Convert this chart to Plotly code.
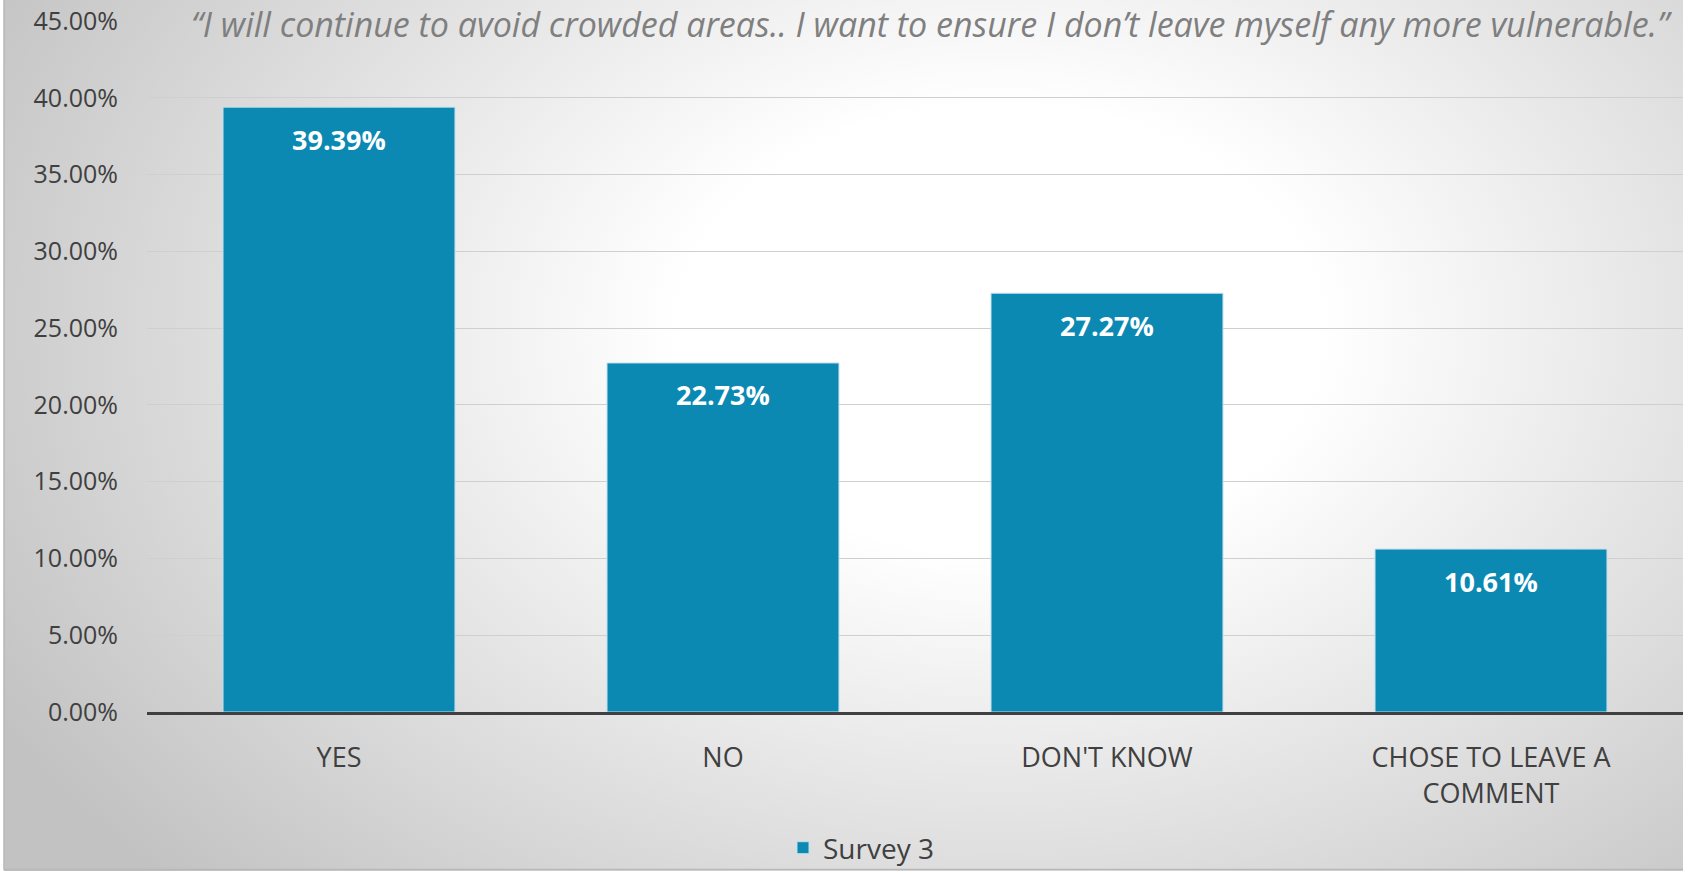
import base64
import plotly.graph_objects as go

# ---- data ----
categories = ["YES", "NO", "DON'T KNOW", "CHOSE TO LEAVE A<br>COMMENT"]
values = [39.39, 22.73, 27.27, 10.61]
series_name = "Survey 3"
y_ticks = [0, 5, 10, 15, 20, 25, 30, 35, 40, 45]
y_tick_labels = [f"{t:.2f}%" for t in y_ticks]
quote = "“I will continue to avoid crowded areas.. I want to ensure I don’t leave myself any more vulnerable.”"

# ---- layout geometry ----
W, H = 1683, 871
ML, MR, MT, MB = 147, 0, 21, 159
PW, PH = W - ML - MR, H - MT - MB

BAR = "#0B89B2"
TXT = "#404040"
FONT = "Open Sans"

# background gradient (Excel-like radial fill)
bg_w = W - 4
svg = f'''<svg xmlns="http://www.w3.org/2000/svg" width="{bg_w}" height="{H}" viewBox="0 0 {bg_w} {H}" preserveAspectRatio="none">
<defs><radialGradient id="g" gradientUnits="userSpaceOnUse" cx="996" cy="330" r="1150"
gradientTransform="translate(996 330) scale(1 0.696) translate(-996 -330)">
<stop offset="0" stop-color="#ffffff"/><stop offset="0.28" stop-color="#ffffff"/>
<stop offset="1" stop-color="#c2c2c2"/></radialGradient></defs>
<rect x="0" y="0" width="{bg_w}" height="{H}" fill="url(#g)"/></svg>'''
bg_uri = "data:image/svg+xml;base64," + base64.b64encode(svg.encode()).decode()

fig = go.Figure()
fig.add_trace(go.Bar(
    x=categories, y=values, name=series_name,
    marker=dict(color=BAR, line=dict(color="#bfe0ec", width=1)),
    hoverinfo="skip",
))

for c, v in zip(categories, values):
    fig.add_annotation(x=c, y=v, xref="x", yref="y", text=f"<b>{v:.2f}%</b>",
                       showarrow=False, yanchor="middle", yshift=-32,
                       font=dict(family=FONT, size=27, color="white"))

fig.add_annotation(x=(931 - ML) / PW, y=1.0, xref="paper", yref="paper",
                   text=quote, showarrow=False, xanchor="center", yanchor="middle",
                   yshift=-3, borderpad=0,
                   font=dict(family=FONT, size=34, color="#7f7f7f", style="italic"))

fig.update_layout(
    width=W, height=H,
    margin=dict(l=ML, r=MR, t=MT, b=MB, pad=0, autoexpand=False),
    paper_bgcolor="white",
    plot_bgcolor="rgba(0,0,0,0)",
    bargap=0.396,
    showlegend=True,
    legend=dict(orientation="h", x=(861 - ML) / PW, xanchor="center",
                yref="container", y=(H - 848) / H, yanchor="middle",
                font=dict(family=FONT, size=28, color=TXT),
                bgcolor="rgba(0,0,0,0)"),
    images=[dict(source=bg_uri, xref="paper", yref="paper",
                 x=(4 - ML) / PW, y=1 + MT / PH, sizex=bg_w / PW, sizey=H / PH,
                 xanchor="left", yanchor="top", sizing="stretch", layer="below")],
    shapes=[dict(type="rect", xref="paper", yref="paper",
                 x0=(4 - ML) / PW, x1=(W + 5 - ML) / PW,
                 y0=(MT + PH - 869.5) / PH, y1=1 + (MT + 5) / PH,
                 line=dict(color="#b8b8b8", width=1.5), fillcolor="rgba(0,0,0,0)",
                 layer="above")],
    xaxis=dict(showgrid=False, showline=True, linecolor="#404040", linewidth=3,
               ticks="", tickfont=dict(family=FONT, size=27, color=TXT),
               ticklabelstandoff=20, fixedrange=True, automargin=False),
    yaxis=dict(range=[0, 45], tickvals=y_ticks, ticktext=y_tick_labels,
               showgrid=True, gridcolor="#cfcfcf", gridwidth=1.2, zeroline=False,
               ticks="", tickfont=dict(family=FONT, size=25, color=TXT),
               ticklabelstandoff=28, fixedrange=True, automargin=False),
)

fig.write_html("out.html", config={"displayModeBar": False},
               post_script="document.body.style.margin='0';document.body.style.overflow='hidden';")
